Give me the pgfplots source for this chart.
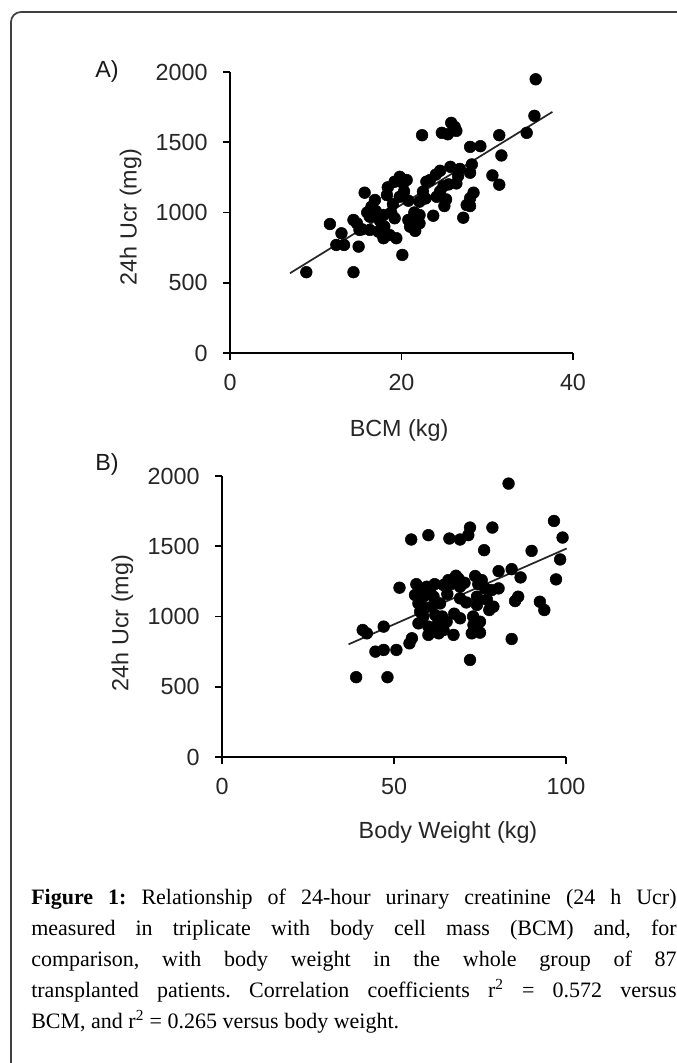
\documentclass[border=0pt]{standalone}
\usepackage{fontspec}
\setmainfont{Liberation Serif}
\newfontfamily\arial{Liberation Sans}
\usepackage{pgfplots}
\pgfplotsset{compat=1.18}

\pgfplotsset{
  panel/.style={
    scale only axis,
    anchor=south west,
    axis x line*=bottom,
    axis y line*=left,
    axis line style={-, line width=1.4pt, black},
    tick align=outside,
    major tick length=5.25pt,
    tick style={line width=1.2pt, black},
    ymin=0, ymax=2000,
    ytick={0,500,1000,1500,2000},
    /pgf/number format/assume math mode=true,
    /pgf/number format/set thousands separator={},
    ticklabel style={font=\arial\fontsize{17.5}{19}\selectfont, text=black!85},
    yticklabel style={xshift=-8pt},
    xticklabel style={yshift=-7pt},
    label style={font=\arial\fontsize{17.5}{19}\selectfont, text=black!85},
    clip=false,
  },
  dots/.style={only marks, mark=*, mark size=4.4pt, black, mark options={fill=black}},
  fit/.style={no marks, black!85, line width=1.3pt},
}

\begin{document}
\begin{tikzpicture}[x=0.75pt, y=0.75pt]
\useasboundingbox (0,0) rectangle (677,1063);
% frame
\draw[line width=1.3pt, black!75, rounded corners=7.5pt] (680,1051) -- (11,1051) -- (11,-5);

% panel labels
\node[font=\arial\fontsize{17.5}{19}\selectfont, text=black!90] at (107,992) {A)};
\node[font=\arial\fontsize{17.5}{19}\selectfont, text=black!90] at (107,599) {B)};

% Panel A
\begin{axis}[panel, at={(172.5pt,532.5pt)}, width=257.25pt, height=210.75pt,
  xmin=0, xmax=40, xtick={0,20,40},
  xlabel={BCM (kg)}, ylabel={24h Ucr (mg)},
  xlabel style={at={(axis description cs:0.493,-0.274)}, anchor=center},
  ylabel style={at={(axis description cs:-0.29,0.484)}, anchor=center},
]
\addplot[dots] coordinates {
(35.65,1948) (35.5,1688) (34.6,1567) (31.4,1550) (31.65,1406) (30.6,1264) (31.4,1198)
(22.4,1550) (24.7,1567) (25.4,1557) (25.8,1638) (26.2,1609) (26.4,1581)
(28.0,1467) (29.2,1472) (28.2,1342) (28.0,1283) (28.4,1141) (28.0,1101) (27.6,1053)
(28.0,1046) (27.2,963) (25.7,1325) (24.5,1297) (26.6,1259) (26.4,1207) (24.9,1188)
(25.2,1093) (25.0,1046) (24.1,1112) (22.9,1219) (22.5,1148) (22.1,1077) (23.7,977)
(22.1,982) (22.1,923) (21.6,869) (20.8,947) (21.0,899) (19.8,1254) (20.2,1207)
(20.6,1231) (19.8,1112) (20.8,1084) (19.2,1219) (18.4,1179) (18.3,1124) (19.2,959)
(18.6,840) (19.4,817) (20.1,698) (17.9,817) (17.3,864) (16.3,876) (15.7,1141)
(16.9,1089) (16.5,1041) (16.3,970) (17.3,982) (17.9,982) (15.1,876) (14.4,947)
(14.8,923) (15.0,757) (14.4,575) (11.65,918) (13.0,852) (12.4,769) (13.3,769) (8.9,575)
(17.0,1010) (18.8,1000) (20.3,1150) (21.5,1000) (23.3,1230) (24.0,1270) (25.5,1200)
(19.0,1060) (16.0,1000) (22.8,1100) (26.8,1310) (17.5,940) (21.3,960) (24.5,1150)
(20.0,1240) (18.0,900) (15.4,880)
};
\addplot[fit] coordinates {(7.0,568) (37.6,1716)};
\end{axis}

% Panel B
\begin{axis}[panel, at={(166.5pt,229.5pt)}, width=258pt, height=210.75pt,
  xmin=0, xmax=100, xtick={0,50,100},
  xlabel={Body Weight (kg)}, ylabel={24h Ucr (mg)},
  xlabel style={at={(axis description cs:0.657,-0.267)}, anchor=center},
  ylabel style={at={(axis description cs:-0.29,0.477)}, anchor=center},
]
\addplot[dots] coordinates {
(83.3,1946) (96.5,1680) (99.0,1562) (98.3,1406) (97.1,1264) (90.0,1467) (86.8,1278)
(84.2,1337) (80.4,1323) (86.1,1141) (85.2,1110) (92.4,1105) (93.7,1046) (84.2,840)
(78.6,1633) (76.2,1472) (72.1,1633) (71.6,1579) (69.2,1548) (66.1,1555) (60.0,1579)
(55.0,1548) (51.6,1205) (73.6,1288) (75.5,1259) (80.4,1200) (78.4,1188) (78.9,1070)
(77.7,1046) (74.1,1141) (74.1,1082) (75.0,963) (73.1,940) (75.0,885) (72.6,880)
(72.1,691) (69.2,987) (67.3,869) (68.7,1271) (69.2,1212) (69.2,1129) (65.8,1259)
(64.4,1224) (63.4,1093) (61.0,1070) (59.5,1212) (57.6,1188) (56.1,1153) (57.1,1093)
(57.6,1034) (57.1,951) (60.0,928) (60.0,869) (62.5,928) (64.4,904) (65.3,963)
(62.9,963) (55.2,845) (54.5,809) (50.7,762) (47.0,928) (47.0,762) (44.6,750)
(42.1,880) (40.9,904) (39.0,568) (48.1,568) (61.5,1141) (58.6,1141)
(58.5,1000) (60.5,1180) (62.0,1010) (64.0,1000) (66.5,1230) (67.5,1020) (70.5,1240)
(71.0,1100) (73.0,1000) (76.5,1200) (77.0,1120) (59.0,1060) (61.8,1230) (65.5,1160)
(68.0,1290) (74.5,1230) (63.0,880) (56.5,1230)
};
\addplot[fit] coordinates {(36.8,802) (100.2,1484)};
\end{axis}

% caption
\node[anchor=north west, inner sep=0pt, text width=484pt, align=justify,
      font=\frenchspacing\fontsize{16.5}{23.25}\selectfont] at (31,174) {%
\textbf{Figure 1:} Relationship of 24-hour urinary creatinine (24 h Ucr)\linebreak
measured in triplicate with body cell mass (BCM) and, for\linebreak
comparison, with body weight in the whole group of 87\linebreak
transplanted patients. Correlation coefficients r\textsuperscript{2} = 0.572 versus\linebreak
BCM, and r\textsuperscript{2} = 0.265 versus body weight.};
\end{tikzpicture}
\end{document}
